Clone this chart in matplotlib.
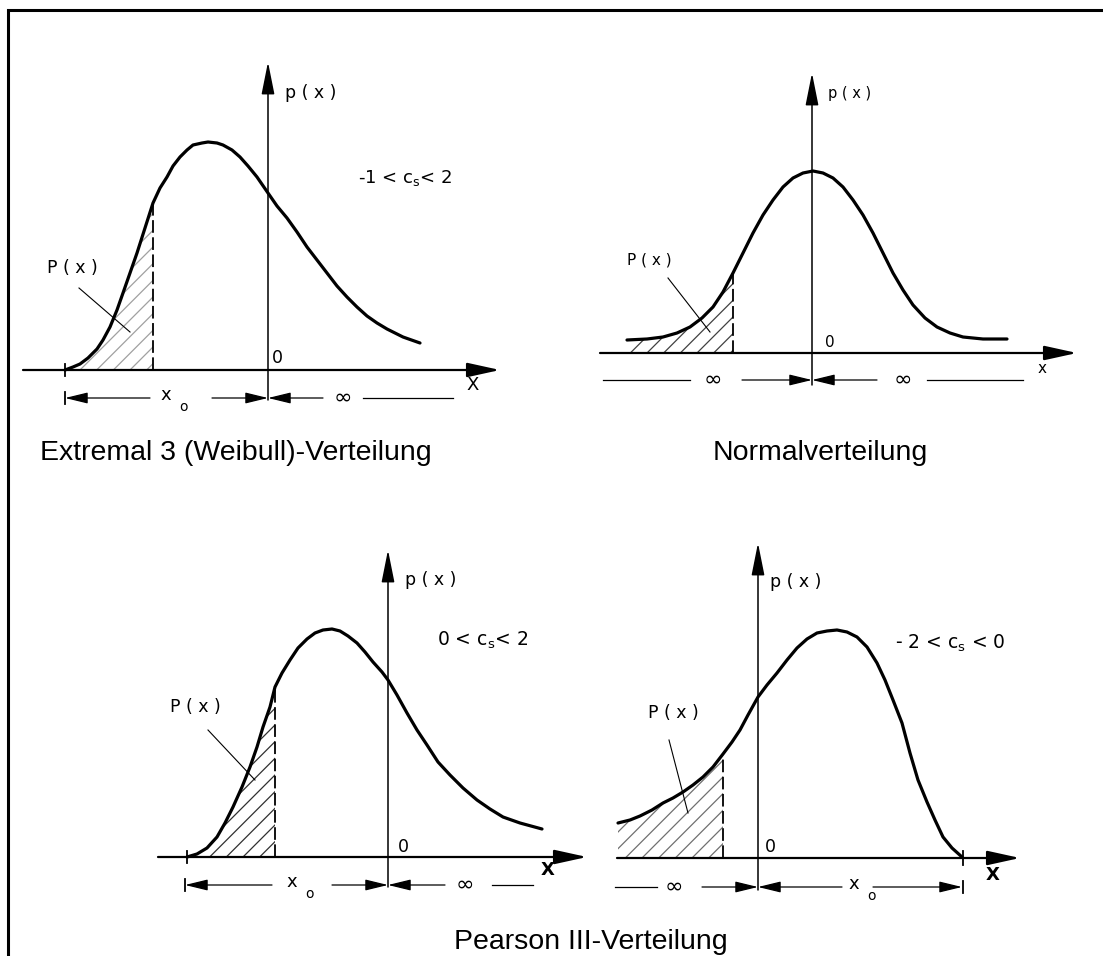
import matplotlib.pyplot as plt

W, H = 1103, 956
plt.rcParams['font.family'] = 'DejaVu Sans'
plt.rcParams['hatch.linewidth'] = 0.9

# origin of each sketch (where x-axis and p(x)-axis cross), pixel position on the sheet
org_weibull = (268, 370)
org_normal = (812, 353)
org_pos = (388, 857)
org_neg = (758, 858)

# curve samples: x = distance from p(x)-axis, y = height above x-axis
weibull_x = [-203, -195, -188, -180, -171, -165, -158, -151, -145, -138, -131, -123, -115, -108,
             -101, -95, -88, -81, -75, -66, -60, -51, -45, -36, -28, -20, -11, 0, 9, 19, 29, 39,
             49, 59, 69, 79, 89, 99, 109, 119, 135, 152]
weibull_y = [0, 3, 6, 12, 21, 30, 43, 60, 77, 97, 117, 142, 167, 182,
             193, 204, 213, 220, 225, 227, 228, 227, 225, 220, 213, 204, 193, 177, 164, 152, 138, 123,
             110, 97, 84, 73, 63, 54, 47, 41, 33, 27]

normal_x = [-185, -165, -149, -135, -122, -110, -99, -89, -79, -69, -59, -49, -39, -29, -19, -9, 1,
            11, 21, 31, 41, 51, 61, 71, 81, 91, 101, 113, 125, 138, 151, 171, 195]
normal_y = [13, 14, 16, 20, 26, 35, 46, 61, 80, 100, 120, 138, 153, 166, 175, 180, 182,
            180, 175, 166, 153, 138, 120, 100, 80, 63, 48, 35, 26, 20, 16, 14, 14]

pos_x = [-201, -191, -181, -171, -163, -155, -146, -138, -131, -125, -118, -113, -106, -98, -90,
         -81, -73, -65, -56, -48, -40, -31, -23, -15, -6, 0, 9, 19, 29, 39, 50, 62, 75, 89, 102,
         115, 132, 154]
pos_y = [0, 3, 9, 20, 34, 50, 70, 90, 110, 130, 150, 170, 184, 197, 209,
         218, 224, 227, 228, 226, 221, 214, 205, 195, 185, 177, 162, 144, 127, 112, 95, 82, 69, 57, 48,
         40, 34, 28]

neg_x = [-140, -128, -118, -106, -95, -85, -75, -65, -55, -45, -35, -26, -18, -10, 0, 9, 19, 29,
         39, 49, 59, 69, 79, 89, 99, 109, 119, 127, 135, 144, 152, 160, 169, 177, 185, 194, 204]
neg_y = [35, 38, 42, 48, 55, 60, 66, 73, 81, 91, 104, 116, 128, 143, 161, 173, 185, 198,
         210, 219, 225, 227, 228, 226, 221, 211, 195, 178, 158, 135, 105, 78, 56, 38, 21, 10, 1]

# x value of the dashed line bounding P(x)
cut_weibull, cut_normal, cut_pos, cut_neg = -115, -79, -113, -35

titles = ['Extremal 3 (Weibull)-Verteilung', 'Normalverteilung', 'Pearson III-Verteilung']
cs_labels = ['-1 < c$_\\mathregular{s}$< 2', '0 < c$_\\mathregular{s}$< 2', '- 2 < c$_\\mathregular{s}$ < 0']

fig = plt.figure(figsize=(W / 100, H / 100), dpi=100)

base = fig.add_axes([0, 0, 1, 1])
base.set_xlim(0, W)
base.set_ylim(H, 0)
base.axis('off')
base.plot([8, 8, W], [H, 10, 10], color='k', lw=2.2, solid_joinstyle='miter')
base.text(40, 460, titles[0], fontsize=20.5, family='Liberation Sans', va='baseline', ha='left')
base.text(820, 460, titles[1], fontsize=20.5, family='Liberation Sans', va='baseline', ha='center')
base.text(591, 949, titles[2], fontsize=20.5, family='Liberation Sans', va='baseline', ha='center')


def panel(org):
    ox, oy = org
    ax = fig.add_axes([0, 0, 1, 1])
    ax.set_xlim(-ox, W - ox)
    ax.set_ylim(oy - H, oy)
    ax.axis('off')
    ax.patch.set_visible(False)
    return ax


def arrow(ax, tail, tip, lw, hl, hw):
    ax.annotate('', xy=tip, xytext=tail,
                arrowprops=dict(arrowstyle='-|>,head_length=%s,head_width=%s' % (hl, hw),
                                lw=lw, color='k', shrinkA=0, shrinkB=0, mutation_scale=20))


def sketch(ax, x, y, cut, hcolor, xext, ytop, ybot):
    # axes
    arrow(ax, (xext[0], 0), (xext[1], 0), 1.6, 1.0, 0.22)
    arrow(ax, (0, ybot), (0, ytop), 1.1, 1.0, 0.2)
    # curve
    ax.plot(x, y, color='k', lw=2.3, solid_capstyle='round', solid_joinstyle='round', zorder=3)
    # hatched P(x) area and dashed bound
    xs = [v for v in x if v <= cut]
    ys = y[:len(xs)]
    ax.fill_between(xs, 0, ys, facecolor='none', edgecolor=hcolor, hatch='//', linewidth=0)
    ax.plot([cut, cut], [0, ys[-1]], color='k', lw=1.3, dashes=(7, 2.5))


def dim(ax, yd, items):
    for it in items:
        if it[0] == 'arrow':
            arrow(ax, (it[1], yd), (it[2], yd), 0.9, 0.7, 0.17)
        elif it[0] == 'line':
            ax.plot([it[1], it[2]], [yd, yd], color='k', lw=0.9)
        elif it[0] == 'bar':
            ax.plot([it[1], it[1]], [yd - 6, yd + 6], color='k', lw=1.3)
        elif it[0] == 'inf':
            ax.text(it[1], yd, '\u221e', fontsize=16, ha='center', va='center')
        elif it[0] == 'xo':
            ax.text(it[1], yd + 3, 'x', fontsize=13, ha='center', va='center')
            ax.text(it[1] + 18, yd - 9, 'o', fontsize=10, ha='center', va='center')


# Extremal 3 (Weibull)
ax = panel(org_weibull)
sketch(ax, weibull_x, weibull_y, cut_weibull, '#a0a0a0', (-245, 232), 308, -30)
ax.plot([-203, -203], [-6, 6], color='k', lw=1.3)
ax.text(17, 277, 'p ( x )', fontsize=12.5, va='center')
ax.text(90, 192, cs_labels[0], fontsize=13, va='center')
ax.text(4, 12, '0', fontsize=12.5, va='center')
ax.text(205, -15, 'X', fontsize=13, ha='center', va='center')
ax.text(-221, 102, 'P ( x )', fontsize=12.5, va='center')
ax.plot([-189, -138], [82, 38], color='k', lw=0.8)
dim(ax, -28, [('bar', -203), ('arrow', -118, -203), ('xo', -102), ('arrow', -56, 0),
              ('arrow', 55, 0), ('inf', 75), ('line', 95, 185)])

# Normalverteilung
ax = panel(org_normal)
sketch(ax, normal_x, normal_y, cut_normal, '#404040', (-212, 265), 280, -32)
ax.text(16, 260, 'p ( x )', fontsize=10.5, va='center')
ax.text(13, 11, '0', fontsize=11, va='center')
ax.text(230, -15, 'x', fontsize=11, ha='center', va='center')
ax.text(-185, 93, 'P ( x )', fontsize=11, va='center')
ax.plot([-144, -102], [75, 21], color='k', lw=0.8)
dim(ax, -27, [('line', -209, -122), ('inf', -99), ('arrow', -70, 0),
              ('arrow', 65, 0), ('inf', 91), ('line', 115, 211)])

# Pearson III, positive skew
ax = panel(org_pos)
sketch(ax, pos_x, pos_y, cut_pos, '#303030', (-230, 199), 307, -30)
ax.plot([-201, -201], [-6, 6], color='k', lw=1.3)
ax.text(17, 277, 'p ( x )', fontsize=12.5, va='center')
ax.text(49, 217, cs_labels[1], fontsize=13.5, va='center')
ax.text(10, 10, '0', fontsize=12.5, va='center')
ax.text(160, -13, 'X', fontsize=13, ha='center', va='center', weight='bold')
ax.text(-218, 150, 'P ( x )', fontsize=12.5, va='center')
ax.plot([-180, -133], [127, 77], color='k', lw=0.8)
dim(ax, -28, [('bar', -203), ('arrow', -116, -203), ('xo', -96), ('arrow', -56, 0),
              ('arrow', 57, 0), ('inf', 77), ('line', 104, 145)])

# Pearson III, negative skew
ax = panel(org_neg)
sketch(ax, neg_x, neg_y, cut_neg, '#707070', (-141, 262), 315, -32)
ax.plot([205, 205], [-7, 7], color='k', lw=1.3)
ax.text(12, 276, 'p ( x )', fontsize=12.5, va='center')
ax.text(137, 215, cs_labels[2], fontsize=13.5, va='center')
ax.text(7, 11, '0', fontsize=12.5, va='center')
ax.text(235, -17, 'X', fontsize=13, ha='center', va='center', weight='bold')
ax.text(-110, 145, 'P ( x )', fontsize=12.5, va='center')
ax.plot([-89, -70], [118, 45], color='k', lw=0.8)
dim(ax, -29, [('line', -143, -101), ('inf', -84), ('arrow', -56, 0),
              ('arrow', 84, 0), ('xo', 96), ('arrow', 115, 204), ('bar', 205)])

fig.savefig('out.png', dpi=100)
